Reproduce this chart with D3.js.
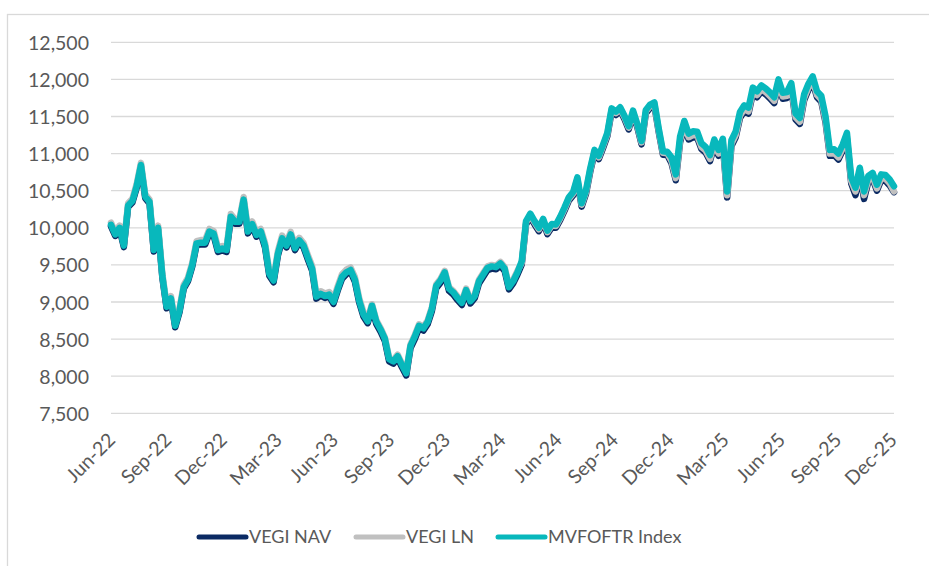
<!DOCTYPE html>
<html>
<head>
<meta charset="utf-8">
<script src="https://cdn.jsdelivr.net/npm/d3@7"></script>
<style>
  body { margin: 0; background: #fff; }
  text { font-family: Lato, "Open Sans", sans-serif; fill: #595959; }
</style>
</head>
<body>
<div id="chart-container"></div>
<script>
// weekly closes, rebased (first week Jun-22)
var startDate = new Date(2022, 5, 1);

var indexValues = [
  10040, 9910, 10000, 9760, 10300, 10360, 10560, 10846, 10420, 10350,
  9700, 10000, 9350, 8937, 9050, 8680, 8880, 9200, 9300, 9500,
  9790, 9800, 9800, 9950, 9920, 9700, 9720, 9701, 10150, 10080,
  10080, 10380, 9950, 10050, 9903, 9950, 9760, 9380, 9290, 9650,
  9859, 9760, 9910, 9724, 9830, 9760, 9600, 9450, 9072, 9110,
  9080, 9100, 9000, 9180, 9340, 9400, 9431, 9300, 9020, 8830,
  8740, 8950, 8735, 8630, 8505, 8230, 8200, 8270, 8150, 8040,
  8410, 8533, 8680, 8645, 8730, 8910, 9215, 9290, 9400, 9180,
  9130, 9055, 8990, 9160, 9010, 9080, 9280, 9370, 9460, 9480,
  9470, 9520, 9450, 9200, 9280, 9400, 9550, 10090, 10190, 10090,
  10000, 10120, 9960, 10050, 10045, 10150, 10275, 10410, 10480, 10680,
  10330, 10500, 10800, 11050, 10970, 11120, 11280, 11610, 11565, 11625,
  11510, 11370, 11580, 11400, 11170, 11588, 11660, 11690, 11340, 11030,
  11025, 10950, 10720, 11230, 11440, 11270, 11300, 11295, 11139, 11090,
  10980, 11190, 11050, 11200, 10490, 11180, 11300, 11560, 11650, 11620,
  11890, 11840, 11920, 11880, 11825, 11760, 12000, 11820, 11830, 11950,
  11540, 11480, 11800, 11940, 12040, 11840, 11780, 11500, 11050, 11060,
  11000, 11120, 11280, 10680, 10540, 10810, 10490, 10700, 10740, 10580,
  10720, 10712, 10650, 10560
];

var navValues = [
  10020, 9890, 9980, 9740, 10280, 10340, 10540, 10825, 10400, 10330,
  9680, 9980, 9330, 8915, 9030, 8660, 8860, 9180, 9280, 9480,
  9770, 9775, 9775, 9925, 9895, 9675, 9695, 9675, 10125, 10055,
  10055, 10355, 9925, 10025, 9880, 9925, 9735, 9355, 9265, 9625,
  9835, 9735, 9885, 9700, 9805, 9735, 9575, 9425, 9045, 9085,
  9055, 9075, 8975, 9155, 9315, 9375, 9405, 9275, 8995, 8805,
  8715, 8920, 8705, 8600, 8475, 8200, 8170, 8240, 8120, 8010,
  8380, 8500, 8650, 8615, 8700, 8880, 9185, 9260, 9370, 9150,
  9100, 9025, 8960, 9130, 8980, 9050, 9250, 9340, 9430, 9450,
  9440, 9490, 9420, 9170, 9250, 9370, 9505, 10045, 10145, 10045,
  9955, 10075, 9915, 10005, 10000, 10105, 10230, 10365, 10435, 10635,
  10285, 10455, 10755, 11005, 10925, 11075, 11235, 11565, 11520, 11580,
  11465, 11325, 11535, 11355, 11125, 11543, 11615, 11645, 11295, 10985,
  10980, 10870, 10640, 11150, 11360, 11190, 11220, 11215, 11060, 11010,
  10900, 11110, 10970, 11120, 10410, 11100, 11220, 11480, 11570, 11540,
  11810, 11760, 11840, 11800, 11745, 11680, 11920, 11740, 11750, 11870,
  11460, 11400, 11720, 11860, 11960, 11760, 11700, 11420, 10970, 10980,
  10920, 11040, 11200, 10600, 10440, 10730, 10390, 10620, 10660, 10500,
  10640, 10630, 10570, 10480
];

var lnValues = [
  10070, 9940, 10030, 9790, 10330, 10390, 10590, 10875, 10450, 10380,
  9730, 10030, 9380, 8965, 9080, 8710, 8910, 9230, 9330, 9530,
  9820, 9835, 9835, 9985, 9955, 9735, 9755, 9735, 10185, 10115,
  10115, 10415, 9985, 10085, 9940, 9985, 9795, 9415, 9325, 9685,
  9895, 9795, 9945, 9760, 9865, 9795, 9635, 9485, 9105, 9145,
  9115, 9135, 9035, 9215, 9375, 9435, 9465, 9335, 9055, 8865,
  8775, 8970, 8755, 8650, 8525, 8250, 8220, 8290, 8170, 8060,
  8430, 8555, 8700, 8665, 8750, 8930, 9235, 9310, 9420, 9200,
  9150, 9075, 9010, 9180, 9030, 9100, 9300, 9390, 9480, 9500,
  9490, 9540, 9470, 9220, 9300, 9420, 9530, 10070, 10170, 10070,
  9980, 10100, 9940, 10030, 10025, 10130, 10255, 10390, 10460, 10660,
  10310, 10480, 10780, 11030, 10950, 11100, 11260, 11590, 11545, 11605,
  11490, 11350, 11560, 11380, 11150, 11568, 11640, 11670, 11320, 11010,
  11005, 10900, 10670, 11180, 11390, 11220, 11250, 11245, 11090, 11040,
  10930, 11140, 11000, 11150, 10440, 11130, 11250, 11510, 11600, 11570,
  11840, 11790, 11870, 11830, 11775, 11710, 11950, 11770, 11780, 11900,
  11490, 11430, 11750, 11890, 11990, 11790, 11730, 11450, 11000, 11010,
  10950, 11070, 11230, 10630, 10490, 10760, 10440, 10650, 10690, 10530,
  10670, 10660, 10600, 10490
];

var seriesNames = ["VEGI NAV", "VEGI LN", "MVFOFTR Index"];
var seriesColors = ["#0b2a63", "#c0c0c0", "#08b8bc"];

var tickLabels = ["Jun-22", "Sep-22", "Dec-22", "Mar-23", "Jun-23", "Sep-23", "Dec-23",
  "Mar-24", "Jun-24", "Sep-24", "Dec-24", "Mar-25", "Jun-25", "Sep-25", "Dec-25"];
var yTicks = [7500, 8000, 8500, 9000, 9500, 10000, 10500, 11000, 11500, 12000, 12500];

var dates = indexValues.map(function(d, i) { return d3.timeDay.offset(startDate, 7 * i); });
var parseTick = d3.timeParse("%b-%y");

var W = 929, H = 566;
var plotLeft = 111, plotRight = 894, plotTop = 42.3, plotBottom = 413.3;

var svg = d3.select("#chart-container")
    .append("svg")
    .attr("width", W)
    .attr("height", H);

// chart frame (only left/top edges fall inside the picture)
svg.append("rect")
    .attr("x", 7.5).attr("y", 14.5)
    .attr("width", 1000).attr("height", 1000)
    .attr("fill", "none")
    .attr("stroke", "#d9d9d9")
    .attr("stroke-width", 1.3);

var x = d3.scaleTime()
    .domain([startDate, dates[dates.length - 1]])
    .range([plotLeft, plotRight]);

var y = d3.scaleLinear()
    .domain([7500, 12500])
    .range([plotBottom, plotTop]);

// gridlines
svg.append("g")
  .selectAll("line")
  .data(yTicks)
  .enter().append("line")
    .attr("x1", plotLeft).attr("x2", plotRight)
    .attr("y1", function(d) { return y(d); })
    .attr("y2", function(d) { return y(d); })
    .attr("stroke", "#d9d9d9")
    .attr("stroke-width", 1.3);

// y labels
var yAxis = d3.axisLeft(y).tickValues(yTicks).tickSize(0).tickPadding(0)
    .tickFormat(d3.format(","));
var gy = svg.append("g")
    .attr("transform", "translate(89,0)")
    .call(yAxis);
gy.select(".domain").remove();
gy.selectAll("text")
    .attr("font-size", "19.5px")
    .attr("font-family", "Lato, sans-serif")
    .attr("dy", "0.36em")
    .attr("fill", "#595959");

// x labels, rotated
var xAxis = d3.axisBottom(x)
    .tickValues(tickLabels.map(function(t) { return parseTick(t); }))
    .tickSize(0)
    .tickFormat(d3.timeFormat("%b-%y"));
var gx = svg.append("g")
    .attr("transform", "translate(0," + plotBottom + ")")
    .call(xAxis);
gx.select(".domain").remove();
gx.selectAll("text")
    .attr("font-size", "19.5px")
    .attr("font-family", "Lato, sans-serif")
    .attr("fill", "#595959")
    .attr("text-anchor", "end")
    .attr("x", 0).attr("y", 0).attr("dy", 0)
    .attr("transform", "translate(5,28) rotate(-45)");

// lines
var allSeries = [navValues, lnValues, indexValues];
var line = d3.line()
    .x(function(d, i) { return x(dates[i]); })
    .y(function(d) { return y(d); });

svg.append("g")
  .selectAll("path")
  .data(allSeries)
  .enter().append("path")
    .attr("d", function(d) { return line(d); })
    .attr("fill", "none")
    .attr("stroke", function(d, i) { return seriesColors[i]; })
    .attr("stroke-width", 6.5)
    .attr("stroke-linejoin", "round")
    .attr("stroke-linecap", "round");

// legend
var legendX = [199, 356, 498];
var lg = svg.append("g")
  .selectAll("g")
  .data(seriesNames)
  .enter().append("g")
    .attr("transform", function(d, i) { return "translate(" + legendX[i] + ",537)"; });
lg.append("line")
    .attr("x1", 0).attr("x2", 47)
    .attr("stroke", function(d, i) { return seriesColors[i]; })
    .attr("stroke-width", 5)
    .attr("stroke-linecap", "round");
lg.append("text")
    .attr("x", 50)
    .attr("dy", "0.36em")
    .attr("font-size", "18px")
    .text(function(d) { return d; });
</script>
</body>
</html>
